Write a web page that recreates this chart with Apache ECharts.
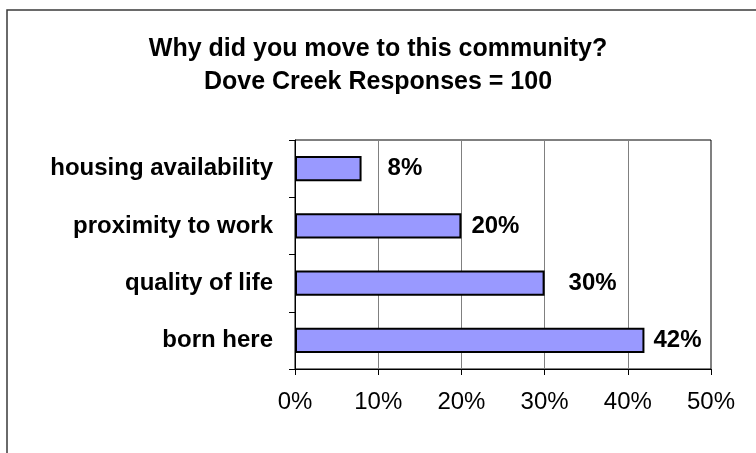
<!DOCTYPE html>
<html>
<head>
<meta charset="utf-8">
<script src="https://cdn.jsdelivr.net/npm/echarts@6/dist/echarts.min.js"></script>
<style>
  html, body { margin: 0; padding: 0; background: #fff; }
  #chart { width: 756px; height: 453px; }
</style>
</head>
<body>
<div id="chart"></div>
<script>
// Reasons for moving, top to bottom
const categories = ['housing availability', 'proximity to work', 'quality of life', 'born here'];
// Share of responses, percent
const shares = [8, 20, 30, 42];
// Value axis ticks, percent
const tickValues = [0, 10, 20, 30, 40, 50];

const titleLines = ['Why did you move to this community?', 'Dove Creek Responses = 100'];

// Gap between each bar end and its value label, px
const labelGaps = [26, 10, 24, 9];

const FONT = 'Liberation Sans, Arial, sans-serif';

const chart = echarts.init(document.getElementById('chart'), null, { renderer: 'canvas' });

chart.setOption({
  animation: false,
  backgroundColor: '#ffffff',
  title: {
    text: titleLines.join('\n'),
    left: 'center',
    top: 28,
    textStyle: {
      fontFamily: FONT,
      fontSize: 25,
      fontWeight: 'bold',
      color: '#000',
      lineHeight: 33
    }
  },
  graphic: [{
    type: 'rect',
    shape: { x: 7, y: 10, width: 820, height: 520 },
    style: { fill: 'none', stroke: '#3a3a3a', lineWidth: 1.5 },
    silent: true,
    z: -1
  }],
  grid: {
    left: 295,
    right: 45,
    top: 140,
    bottom: 84,
    show: true,
    borderColor: '#000',
    borderWidth: 1,
    backgroundColor: 'transparent'
  },
  xAxis: {
    type: 'value',
    min: tickValues[0],
    max: tickValues[tickValues.length - 1],
    interval: tickValues[1] - tickValues[0],
    axisLine: { show: true, lineStyle: { color: '#000', width: 1 } },
    axisTick: { show: true, length: 6, lineStyle: { color: '#000' } },
    splitLine: { show: true, lineStyle: { color: '#808080', width: 1 } },
    axisLabel: {
      formatter: v => v + '%',
      fontFamily: FONT,
      fontSize: 24,
      color: '#000',
      margin: 21
    }
  },
  yAxis: {
    type: 'category',
    data: categories,
    inverse: true,
    axisLine: { show: true, lineStyle: { color: '#000', width: 1 } },
    axisTick: { show: true, length: 6, lineStyle: { color: '#000' } },
    axisLabel: {
      fontFamily: FONT,
      fontSize: 24,
      fontWeight: 'bold',
      color: '#000',
      margin: 22
    }
  },
  series: [{
    type: 'bar',
    barWidth: '44%',
    data: shares.map((v, i) => ({
      value: v,
      label: { distance: labelGaps[i] }
    })),
    itemStyle: { color: '#9999ff', borderColor: '#000', borderWidth: 2 },
    label: {
      show: true,
      position: 'right',
      formatter: p => p.value + '%',
      fontFamily: FONT,
      fontSize: 24,
      fontWeight: 'bold',
      color: '#000'
    }
  }]
});
</script>
</body>
</html>
